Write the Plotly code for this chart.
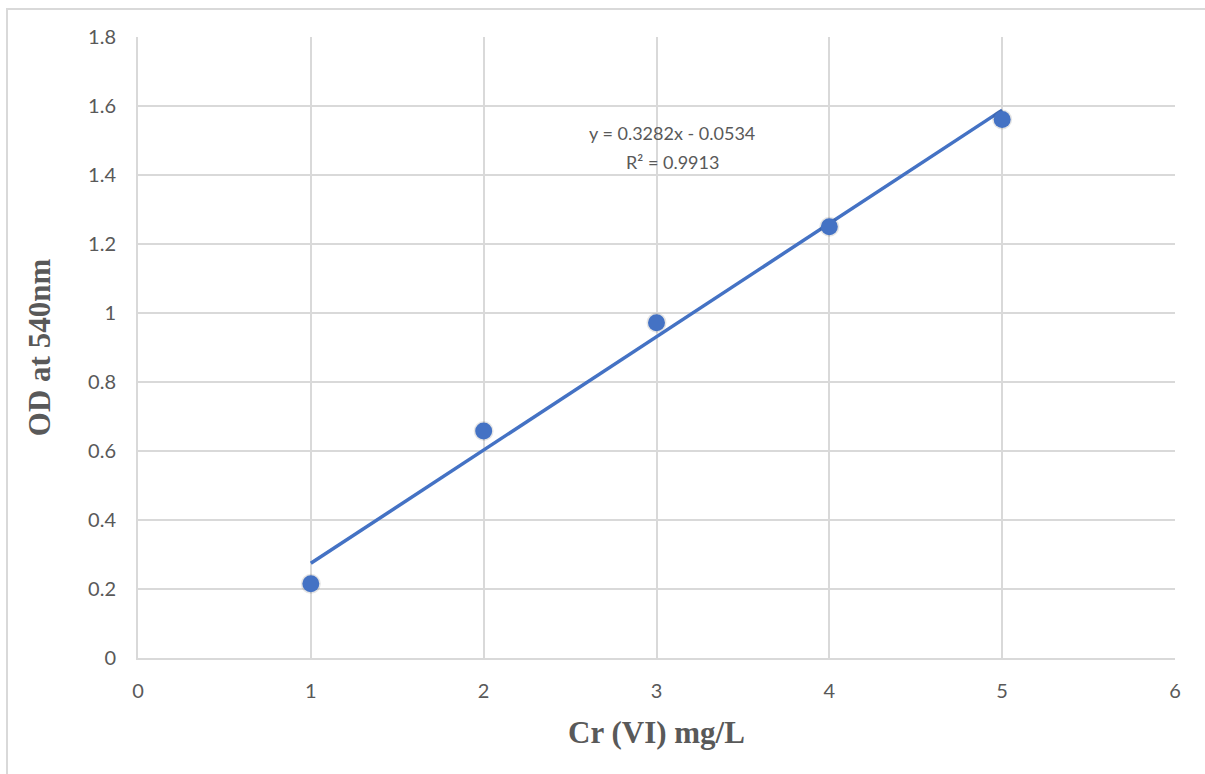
import numpy as np
import plotly.graph_objects as go

conc = [1, 2, 3, 4, 5]
od = [0.215, 0.658, 0.972, 1.25, 1.561]
x_ticks = [0, 1, 2, 3, 4, 5, 6]
y_ticks = [0, 0.2, 0.4, 0.6, 0.8, 1, 1.2, 1.4, 1.6, 1.8]
y_tick_text = ["0", "0.2", "0.4", "0.6", "0.8", "1", "1.2", "1.4", "1.6", "1.8"]
eq_line1 = "y = 0.3282x - 0.0534"
eq_line2 = "R² = 0.9913"

slope, intercept = np.polyfit(conc, od, 1)
fit_x = [conc[0], conc[-1]]
fit_y = [slope * v + intercept for v in fit_x]

BLUE = "#4472C4"
GRID = "#d9d9d9"
TXT = "#595959"
TICKFONT = "Lato, Open Sans, sans-serif"
TITLEFONT = "Liberation Serif, Times New Roman, serif"

fig = go.Figure()
fig.add_trace(go.Scatter(x=fit_x, y=fit_y, mode="lines",
                         line=dict(color=BLUE, width=3.5), hoverinfo="skip"))
fig.add_trace(go.Scatter(x=conc, y=od, mode="markers",
                         marker=dict(size=20, color="rgba(0,0,0,0.10)", line=dict(width=0)),
                         hoverinfo="skip"))
fig.add_trace(go.Scatter(x=conc, y=od, mode="markers",
                         marker=dict(size=17, color=BLUE, line=dict(width=0))))

L, R, T, B = 138, 30, 37, 116
W, H = 1205, 774
pw, ph = W - L - R, H - T - B

fig.add_annotation(x=3.09, y=1.522, xref="x", yref="y", text=eq_line1, showarrow=False,
                   font=dict(family=TICKFONT, size=18, color=TXT))
fig.add_annotation(x=3.09, y=1.438, xref="x", yref="y", text=eq_line2, showarrow=False,
                   font=dict(family=TICKFONT, size=18, color=TXT))

fig.add_shape(type="rect", xref="paper", yref="paper",
              x0=(7 - L) / pw, x1=(1220 - L) / pw,
              y0=(H - 790 - B) / ph, y1=(H - 9 - B) / ph,
              line=dict(color=GRID, width=2), fillcolor="rgba(0,0,0,0)", layer="below")

fig.update_layout(
    width=W, height=H,
    margin=dict(l=L, r=R, t=T, b=B),
    paper_bgcolor="white", plot_bgcolor="white",
    showlegend=False,
    xaxis=dict(range=[0, 6], tickvals=x_ticks, showgrid=True, gridcolor=GRID, gridwidth=1.5,
               zeroline=False, showline=True, linecolor=GRID, linewidth=2,
               ticks="outside", ticklen=14, tickcolor="rgba(0,0,0,0)",
               tickfont=dict(family=TICKFONT, size=20, color=TXT),
               title=dict(text="Cr (VI) mg/L", standoff=20,
                          font=dict(family=TITLEFONT, size=31, color=TXT, weight="bold"))),
    yaxis=dict(range=[0, 1.8], tickvals=y_ticks, ticktext=y_tick_text, showgrid=True,
               gridcolor=GRID, gridwidth=1.5, zeroline=False, showline=True,
               linecolor=GRID, linewidth=2, ticks="outside", ticklen=16, tickcolor="rgba(0,0,0,0)",
               tickfont=dict(family=TICKFONT, size=20, color=TXT),
               title=dict(text="OD at 540nm", standoff=28,
                          font=dict(family=TITLEFONT, size=31, color=TXT, weight="bold"))),
)

fig.write_html("out.html")
